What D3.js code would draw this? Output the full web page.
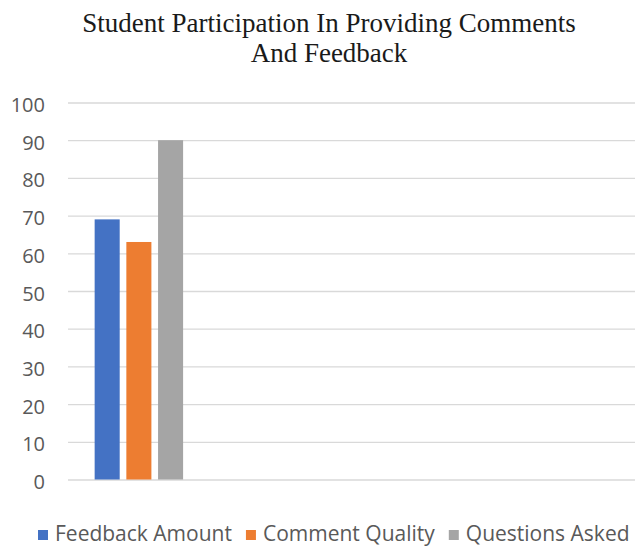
<!DOCTYPE html>
<html>
<head>
<meta charset="utf-8">
<script src="https://cdn.jsdelivr.net/npm/d3@7"></script>
<style>
  html, body { margin: 0; padding: 0; background: #fff; }
  svg { display: block; }
</style>
</head>
<body>
<svg id="chart" width="635" height="548"></svg>
<script>
// ---- data ----
const titleLines = ["Student Participation In Providing Comments", "And Feedback"];
const categories = ["1", "2", "3", "4"];           // category labels are not shown in the reference
const seriesNames = ["Feedback Amount", "Comment Quality", "Questions Asked"];
const feedbackAmount = [69, null, null, null];
const commentQuality = [63, null, null, null];
const questionsAsked = [90, null, null, null];
const yTicks = [0, 10, 20, 30, 40, 50, 60, 70, 80, 90, 100];
const colors = ["#4472C4", "#ED7D31", "#A5A5A5"];

const seriesValues = [feedbackAmount, commentQuality, questionsAsked];

// ---- layout ----
const svg = d3.select("#chart");
const plot = { left: 68, right: 635, top: 102.5, bottom: 479.5 };

const x0 = d3.scaleBand().domain(categories).range([plot.left, plot.right]).paddingInner(0).paddingOuter(0);
const bw = x0.bandwidth();
const x1 = d3.scaleBand().domain(seriesNames)
  .range([bw * 0.188, bw * 0.812]).paddingInner(0.21).paddingOuter(0);
const y = d3.scaleLinear().domain([0, 100]).range([plot.bottom, plot.top]);

// title
svg.append("text")
  .attr("x", 329).attr("y", 32)
  .attr("text-anchor", "middle")
  .attr("font-family", "'Liberation Serif', 'DejaVu Serif', serif")
  .attr("font-size", 27)
  .attr("fill", "#1a1a1a")
  .selectAll("tspan").data(titleLines).join("tspan")
  .attr("x", 329).attr("dy", (d, i) => i === 0 ? 0 : 30)
  .text(d => d);

// gridlines + y axis
const yAxis = d3.axisLeft(y).tickValues(yTicks).tickSize(-(plot.right - plot.left)).tickPadding(23);
const gy = svg.append("g").attr("transform", `translate(${plot.left},0)`).call(yAxis);
gy.select(".domain").remove();
gy.selectAll(".tick line").attr("stroke", "#d9d9d9").attr("stroke-width", 1.3);
gy.selectAll(".tick text")
  .attr("font-family", "'Open Sans', sans-serif")
  .attr("font-size", 20)
  .attr("fill", "#595959")
  .attr("dy", "0.65em")
  .attr("y", -4);

// bars
const rows = categories.map((c, i) => ({ cat: c, vals: seriesNames.map((s, j) => ({ s, v: seriesValues[j][i], j })) }));
svg.append("g").selectAll("g").data(rows).join("g")
  .attr("transform", d => `translate(${x0(d.cat)},0)`)
  .selectAll("rect").data(d => d.vals.filter(e => e.v != null)).join("rect")
  .attr("x", d => x1(d.s))
  .attr("width", x1.bandwidth())
  .attr("y", d => y(d.v))
  .attr("height", d => y(0) - y(d.v))
  .attr("fill", d => colors[d.j]);

// legend
const legend = svg.append("g").attr("transform", "translate(38,541)");
let lx = 0;
seriesNames.forEach((name, i) => {
  const g = legend.append("g").attr("transform", `translate(${lx},0)`);
  g.append("rect").attr("x", 0).attr("y", -11).attr("width", 10).attr("height", 10).attr("fill", colors[i]);
  const t = g.append("text").attr("x", 17).attr("y", 0)
    .attr("font-family", "'Open Sans', sans-serif")
    .attr("font-size", 21)
    .attr("fill", "#595959")
    .text(name);
  lx += 17 + t.node().getComputedTextLength() + 14;
});
</script>
</body>
</html>
